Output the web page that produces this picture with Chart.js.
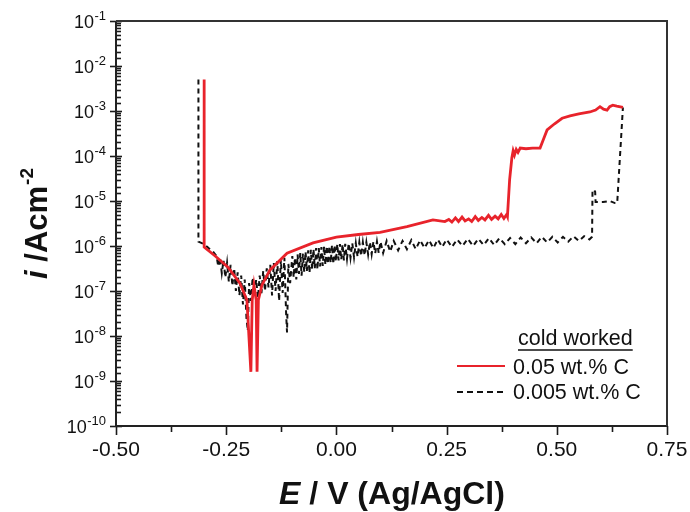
<!DOCTYPE html>
<html>
<head>
<meta charset="utf-8">
<script src="https://cdn.jsdelivr.net/npm/chart.js@4.4.1/dist/chart.umd.min.js"></script>
<style>
html,body{margin:0;padding:0;background:#fff;}
#wrap{width:690px;height:512px;position:relative;}
</style>
</head>
<body>
<div id="wrap"><canvas id="c"></canvas></div>
<script>
// ---------- data ----------
const xTickValues = [-0.50, -0.25, 0.00, 0.25, 0.50, 0.75];
const yTickExponents = [-10, -9, -8, -7, -6, -5, -4, -3, -2, -1];
const legendTitle = "cold worked";
const seriesNames = ["0.05 wt.% C", "0.005 wt.% C"];

// 0.05 wt.% C (red, solid)
const redE = [
  -0.300, -0.300, -0.275, -0.246, -0.219, -0.203, -0.194, -0.191, -0.187, -0.182,
  -0.180, -0.177, -0.169, -0.151, -0.112, -0.053, 0.000, 0.050, 0.099, 0.160,
  0.219, 0.246, 0.255, 0.262, 0.270, 0.277, 0.285, 0.292, 0.300, 0.307,
  0.315, 0.322, 0.330, 0.337, 0.345, 0.352, 0.360, 0.367, 0.374, 0.380,
  0.386, 0.388, 0.393, 0.398, 0.401, 0.404, 0.408, 0.412, 0.417, 0.430,
  0.445, 0.462, 0.470, 0.478, 0.495, 0.512, 0.530, 0.550, 0.575, 0.588,
  0.598, 0.606, 0.614, 0.620, 0.627, 0.636, 0.650
];
const redI = [
  5.0e-3, 9.5e-7, 6.0e-7, 3.4e-7, 1.5e-7, 6.3e-8, 1.6e-9, 6.3e-8, 1.35e-7, 6.3e-8,
  1.6e-9, 6.3e-8, 1.35e-7, 2.9e-7, 6.9e-7, 1.17e-6, 1.58e-6, 1.8e-6, 2.0e-6, 2.7e-6,
  3.8e-6, 3.5e-6, 3.9e-6, 3.4e-6, 4.2e-6, 3.5e-6, 4.4e-6, 3.6e-6, 4.0e-6, 3.5e-6,
  4.5e-6, 3.7e-6, 4.3e-6, 3.8e-6, 4.8e-6, 3.9e-6, 4.6e-6, 4.0e-6, 5.0e-6, 4.1e-6,
  5.0e-6, 4.5e-6, 3.0e-5, 9.0e-5, 1.3e-4, 1.05e-4, 1.4e-4, 1.2e-4, 1.5e-4, 1.45e-4,
  1.5e-4, 1.5e-4, 2.4e-4, 3.8e-4, 5.2e-4, 6.9e-4, 7.8e-4, 8.6e-4, 9.5e-4, 1.05e-3,
  1.25e-3, 1.1e-3, 1.05e-3, 1.25e-3, 1.35e-3, 1.28e-3, 1.2e-3
];

// 0.005 wt.% C (black, dashed) — cathodic branch and active region
const blackE_A = [
  -0.313, -0.313, -0.300, -0.290, -0.280, -0.272, -0.268, -0.264, -0.260, -0.256,
  -0.252, -0.248, -0.244, -0.240, -0.236, -0.232, -0.228, -0.224, -0.220, -0.216,
  -0.212, -0.208, -0.204, -0.201, -0.198, -0.194, -0.190, -0.186, -0.182, -0.178,
  -0.174, -0.170, -0.166, -0.162, -0.158, -0.154, -0.150, -0.146, -0.142, -0.138,
  -0.134, -0.130, -0.126, -0.122, -0.118, -0.114, -0.112, -0.109, -0.105
];
const blackI_A = [
  5.0e-3, 1.25e-6, 1.1e-6, 9.0e-7, 7.5e-7, 6.0e-7, 3.5e-7, 5.5e-7, 2.5e-7, 4.8e-7,
  2.0e-7, 4.2e-7, 1.6e-7, 3.8e-7, 1.3e-7, 3.2e-7, 1.0e-7, 2.6e-7, 8.0e-8, 2.2e-7,
  5.0e-8, 1.8e-7, 2.5e-8, 1.3e-8, 1.5e-7, 6.0e-8, 2.0e-7, 8.0e-8, 1.8e-7, 7.0e-8,
  2.2e-7, 9.0e-8, 2.8e-7, 1.0e-7, 3.2e-7, 1.2e-7, 3.8e-7, 8.0e-8, 4.2e-7, 1.0e-7,
  4.6e-7, 6.0e-8, 5.0e-7, 9.0e-8, 5.5e-7, 3.0e-8, 1.2e-8, 4.0e-7, 1.5e-7
];
// 0.005 wt.% C — noisy band around 0 V
const blackE_B = [
  -0.100, -0.097, -0.094, -0.091, -0.088, -0.085, -0.082, -0.079, -0.076, -0.073,
  -0.070, -0.067, -0.064, -0.061, -0.058, -0.055, -0.052, -0.049, -0.046, -0.043,
  -0.040, -0.037, -0.034, -0.031, -0.028, -0.025, -0.022, -0.019, -0.016, -0.013,
  -0.010, -0.007, -0.004, -0.001, 0.002, 0.005, 0.008, 0.011, 0.014, 0.017,
  0.020, 0.024, 0.028, 0.032, 0.036, 0.040, 0.044, 0.048, 0.052, 0.056,
  0.060, 0.064, 0.068, 0.072, 0.076, 0.080, 0.084, 0.088, 0.092, 0.096,
  0.100
];
const blackI_B = [
  6.0e-7, 2.0e-7, 5.5e-7, 1.8e-7, 6.5e-7, 2.4e-7, 7.0e-7, 2.2e-7, 6.8e-7, 2.6e-7,
  7.5e-7, 2.8e-7, 8.0e-7, 2.5e-7, 8.2e-7, 3.0e-7, 8.5e-7, 3.2e-7, 9.0e-7, 3.0e-7,
  9.0e-7, 3.5e-7, 9.5e-7, 3.6e-7, 9.8e-7, 3.8e-7, 1.0e-6, 4.0e-7, 1.0e-6, 4.2e-7,
  1.05e-6, 4.0e-7, 1.05e-6, 4.5e-7, 1.1e-6, 4.8e-7, 1.1e-6, 5.0e-7, 1.1e-6, 4.8e-7,
  1.12e-6, 5.2e-7, 1.15e-6, 5.5e-7, 1.15e-6, 5.6e-7, 1.15e-6, 5.8e-7, 1.2e-6, 6.0e-7,
  1.2e-6, 6.2e-7, 1.2e-6, 6.5e-7, 1.22e-6, 6.6e-7, 1.25e-6, 6.8e-7, 1.25e-6, 7.0e-7,
  1.25e-6
];
// 0.005 wt.% C — passive region and breakdown
const blackE_C = [
  0.106, 0.114, 0.122, 0.130, 0.140, 0.150, 0.160, 0.170, 0.180, 0.190,
  0.200, 0.210, 0.220, 0.230, 0.240, 0.250, 0.262, 0.274, 0.286, 0.298,
  0.310, 0.322, 0.334, 0.346, 0.358, 0.370, 0.382, 0.394, 0.406, 0.418,
  0.430, 0.442, 0.454, 0.466, 0.478, 0.490, 0.502, 0.514, 0.526, 0.538,
  0.550, 0.562, 0.574, 0.580, 0.581, 0.584, 0.587, 0.588, 0.605, 0.620,
  0.632, 0.637, 0.650
];
const blackI_C = [
  7.0e-7, 1.3e-6, 7.5e-7, 1.3e-6, 8.0e-7, 1.3e-6, 8.5e-7, 1.35e-6, 8.5e-7, 1.35e-6,
  9.0e-7, 1.35e-6, 9.0e-7, 1.4e-6, 9.5e-7, 1.4e-6, 9.5e-7, 1.4e-6, 1.0e-6, 1.45e-6,
  1.0e-6, 1.45e-6, 1.05e-6, 1.5e-6, 1.05e-6, 1.5e-6, 1.1e-6, 1.5e-6, 1.1e-6, 1.55e-6,
  1.15e-6, 1.55e-6, 1.15e-6, 1.6e-6, 1.2e-6, 1.6e-6, 1.2e-6, 1.6e-6, 1.25e-6, 1.65e-6,
  1.3e-6, 1.65e-6, 1.4e-6, 1.6e-6, 1.7e-5, 1.8e-5, 1.6e-5, 9.5e-6, 9.5e-6, 1.0e-5,
  9.0e-6, 9.0e-6, 1.2e-3
];
const blackE = [...blackE_A, ...blackE_B, ...blackE_C];
const blackI = [...blackI_A, ...blackI_B, ...blackI_C];

// ---------- helpers ----------
function toXY(E, I){ return E.map((e, k) => ({x: e, y: I[k]})); }

const RED = '#e8232b';
const FONT = 'Arial, "Liberation Sans", sans-serif';

const decorPlugin = {
  id: 'decor',
  beforeDraw(chart){
    const ctx = chart.ctx;
    ctx.save();
    ctx.fillStyle = '#fff';
    ctx.fillRect(0, 0, chart.width, chart.height);
    ctx.restore();
  },
  afterDatasetsDraw(chart){
    const ctx = chart.ctx;
    const a = chart.chartArea;
    const xs = chart.scales.x, ys = chart.scales.y;
    ctx.save();
    ctx.strokeStyle = '#1a1a1a';
    ctx.lineWidth = 1.6;
    // y ticks
    ys.ticks.forEach(t => {
      const p = Math.round(ys.getPixelForValue(t.value)) + 0.5;
      const e = Math.log10(t.value);
      const major = Math.abs(e - Math.round(e)) < 1e-6;
      ctx.beginPath();
      if (major) { ctx.moveTo(a.left - 6, p); ctx.lineTo(a.left + 6, p); }
      else { ctx.moveTo(a.left, p); ctx.lineTo(a.left + 5, p); }
      ctx.stroke();
    });
    // y tick labels: 10 with raised exponent
    ctx.fillStyle = '#111';
    ctx.textBaseline = 'alphabetic';
    yTickExponents.forEach(e => {
      const p = ys.getPixelForValue(Math.pow(10, e));
      const expTxt = String(e);
      ctx.font = '13px ' + FONT;
      const wx = ctx.measureText(expTxt).width;
      ctx.textAlign = 'left';
      ctx.fillText(expTxt, 106 - wx, p - 1);
      ctx.font = '18px ' + FONT;
      ctx.textAlign = 'right';
      ctx.fillText('10', 106 - wx - 0.5, p + 6.5);
    });
    ctx.textAlign = 'left';
    // x ticks
    xs.ticks.forEach(t => {
      const p = Math.round(xs.getPixelForValue(t.value)) + 0.5;
      const major = Math.abs(t.value / 0.25 - Math.round(t.value / 0.25)) < 1e-6;
      ctx.beginPath();
      ctx.moveTo(p, a.bottom);
      ctx.lineTo(p, a.bottom + (major ? 9 : 6));
      ctx.stroke();
    });
    // frame
    ctx.lineWidth = 2;
    ctx.strokeStyle = '#222';
    ctx.beginPath();
    ctx.moveTo(a.left, a.top); ctx.lineTo(a.left, a.bottom); ctx.lineTo(a.right, a.bottom);
    ctx.stroke();
    ctx.strokeStyle = '#333';
    ctx.beginPath();
    ctx.moveTo(a.left, a.top); ctx.lineTo(a.right, a.top); ctx.lineTo(a.right, a.bottom);
    ctx.stroke();

    // legend
    ctx.fillStyle = '#111';
    ctx.font = '21.5px ' + FONT;
    ctx.textBaseline = 'alphabetic';
    ctx.fillText(legendTitle, 518, 345);
    const w = ctx.measureText(legendTitle).width;
    ctx.lineWidth = 1.5; ctx.strokeStyle = '#111';
    ctx.beginPath(); ctx.moveTo(518, 350); ctx.lineTo(518 + w, 350); ctx.stroke();
    ctx.textBaseline = 'middle';
    ctx.fillText(seriesNames[0], 513, 368);
    ctx.fillText(seriesNames[1], 513, 393);
    ctx.strokeStyle = RED; ctx.lineWidth = 2;
    ctx.beginPath(); ctx.moveTo(457, 366); ctx.lineTo(505, 366); ctx.stroke();
    ctx.strokeStyle = '#111'; ctx.setLineDash([6, 4]);
    ctx.beginPath(); ctx.moveTo(457, 392); ctx.lineTo(507, 392); ctx.stroke();
    ctx.setLineDash([]);

    // x axis title
    ctx.textBaseline = 'alphabetic';
    const fI = 'italic bold 32px ' + FONT, fB = 'bold 32px ' + FONT;
    ctx.font = fI; const wE = ctx.measureText('E').width;
    ctx.font = fB; const rest = ' / V (Ag/AgCl)'; const wR = ctx.measureText(rest).width;
    let x0 = 392 - (wE + wR) / 2;
    ctx.font = fI; ctx.fillText('E', x0, 504);
    ctx.font = fB; ctx.fillText(rest, x0 + wE, 504);

    // y axis title
    ctx.save();
    ctx.translate(47, 224);
    ctx.rotate(-Math.PI / 2);
    const fIy = 'italic bold 31px ' + FONT, fBy = 'bold 31px ' + FONT;
    const fS = 'bold 19px ' + FONT;
    ctx.font = fIy; const wi = ctx.measureText('i').width;
    ctx.font = fBy; const r2 = ' /Acm'; const wr2 = ctx.measureText(r2).width;
    ctx.font = fS; const s2 = '-2'; const ws = ctx.measureText(s2).width;
    let y0 = -(wi + wr2 + ws) / 2;
    ctx.font = fIy; ctx.fillText('i', y0, 0);
    ctx.font = fBy; ctx.fillText(r2, y0 + wi, 0);
    ctx.font = fS; ctx.fillText(s2, y0 + wi + wr2 + 1, -14);
    ctx.restore();

    ctx.restore();
  }
};

new Chart(document.getElementById('c'), {
  type: 'scatter',
  data: {
    datasets: [
      { label: seriesNames[0], data: toXY(redE, redI), showLine: true, borderColor: RED,
        borderWidth: 2.8, pointRadius: 0, tension: 0, fill: false },
      { label: seriesNames[1], data: toXY(blackE, blackI), showLine: true, borderColor: '#111',
        borderWidth: 2, borderDash: [5, 4], pointRadius: 0, tension: 0, fill: false }
    ]
  },
  options: {
    responsive: true,
    maintainAspectRatio: false,
    animation: false,
    events: [],
    layout: { padding: { top: 21, right: 23, left: 0, bottom: 0 } },
    plugins: { legend: { display: false }, tooltip: { enabled: false }, title: { display: false } },
    scales: {
      x: {
        type: 'linear', min: -0.5, max: 0.75,
        grid: { display: false, drawTicks: false }, border: { display: false },
        ticks: {
          stepSize: 0.125, autoSkip: false, maxRotation: 0, padding: 12, color: '#111',
          font: { size: 21, family: FONT },
          callback: v => {
            const hit = xTickValues.find(t => Math.abs(t - v) < 1e-6);
            return hit === undefined ? '' : hit.toFixed(2);
          }
        },
        afterFit: s => { s.height = 86; s.paddingLeft = 0; s.paddingRight = 0; }
      },
      y: {
        type: 'logarithmic', min: 1e-10, max: 1e-1,
        grid: { display: false, drawTicks: false }, border: { display: false },
        ticks: { display: false, autoSkip: false },
        afterFit: s => { s.width = 116; s.paddingTop = 0; s.paddingBottom = 0; }
      }
    }
  },
  plugins: [decorPlugin]
});
</script>
</body>
</html>
